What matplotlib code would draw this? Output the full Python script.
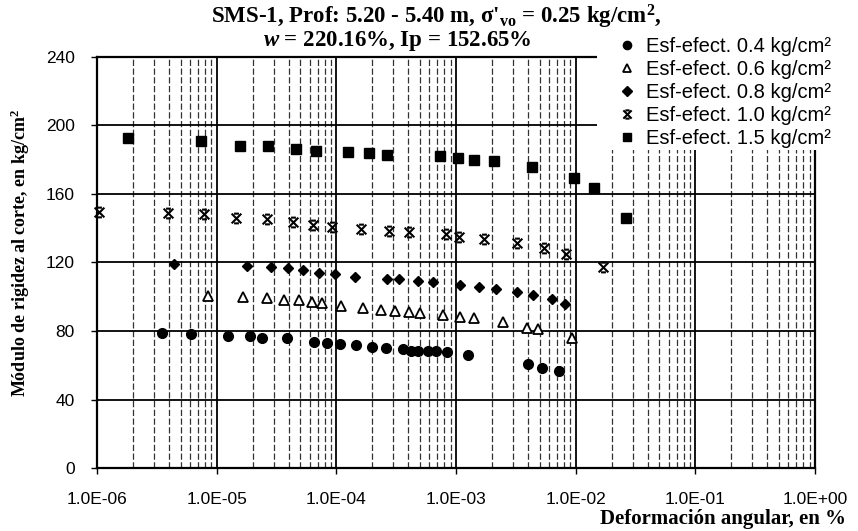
import matplotlib
matplotlib.use("Agg")
import matplotlib.pyplot as plt
from matplotlib.path import Path
from matplotlib.patches import Rectangle
from matplotlib.ticker import LogLocator, NullFormatter

# strain (%) and shear modulus (kg/cm2) per effective confining stress
x04 = [3.5e-6, 6.1e-6, 1.24e-5, 1.9e-5, 2.4e-5, 3.9e-5, 6.5e-5, 8.4e-5, 1.07e-4, 1.46e-4,
       1.98e-4, 2.6e-4, 3.6e-4, 4.2e-4, 4.8e-4, 5.8e-4, 6.8e-4, 8.4e-4, 1.26e-3, 3.99e-3,
       5.22e-3, 7.24e-3]
g04 = [78.8, 78.3, 77.1, 77.1, 75.9, 75.9, 73.6, 73.0, 72.4, 71.8,
       70.7, 70.1, 69.5, 68.3, 68.3, 68.3, 68.3, 67.7, 66.0, 60.7,
       58.4, 56.6]

x06 = [8.5e-6, 1.66e-5, 2.63e-5, 3.65e-5, 4.87e-5, 6.25e-5, 7.6e-5, 1.09e-4, 1.67e-4, 2.36e-4,
       3.09e-4, 4.04e-4, 5.0e-4, 7.8e-4, 1.08e-3, 1.41e-3, 2.47e-3, 3.91e-3, 4.83e-3, 9.3e-3]
g06 = [100.4, 99.9, 99.3, 98.1, 98.1, 96.9, 96.4, 94.6, 93.4, 92.3,
       91.7, 91.1, 90.5, 89.4, 88.2, 87.6, 85.3, 81.8, 81.2, 75.9]

x08 = [4.4e-6, 1.79e-5, 2.84e-5, 3.94e-5, 5.26e-5, 7.16e-5, 9.7e-5, 1.43e-4, 2.65e-4, 3.33e-4,
       4.8e-4, 6.4e-4, 1.08e-3, 1.55e-3, 2.15e-3, 3.23e-3, 4.39e-3, 6.3e-3, 8.1e-3]
g08 = [119.1, 118.0, 117.4, 117.0, 115.6, 114.0, 113.2, 111.6, 110.3, 110.3,
       109.3, 108.6, 106.9, 105.7, 104.5, 102.8, 101.0, 98.7, 95.8]

x10 = [1.04e-6, 3.9e-6, 7.8e-6, 1.45e-5, 2.63e-5, 4.34e-5, 6.4e-5, 9.2e-5, 1.6e-4, 2.75e-4,
       4.04e-4, 8.2e-4, 1.06e-3, 1.71e-3, 3.23e-3, 5.4e-3, 8.3e-3, 1.69e-2]
g10 = [149.5, 149.0, 148.3, 146.0, 145.4, 143.7, 142.0, 140.7, 139.6, 138.4,
       137.8, 136.7, 135.0, 133.7, 131.4, 128.5, 125.0, 117.4]

x15 = [1.8e-6, 7.4e-6, 1.57e-5, 2.7e-5, 4.6e-5, 6.8e-5, 1.25e-4, 1.87e-4, 2.65e-4, 7.3e-4,
       1.04e-3, 1.41e-3, 2.07e-3, 4.3e-3, 9.7e-3, 1.42e-2, 2.63e-2]
g15 = [192.7, 191.0, 188.0, 188.0, 186.0, 185.0, 184.5, 184.0, 183.0, 182.0,
       181.0, 180.0, 179.0, 175.5, 169.6, 163.5, 146.0]

series_labels = ["Esf-efect. 0.4 kg/cm²", "Esf-efect. 0.6 kg/cm²", "Esf-efect. 0.8 kg/cm²",
                 "Esf-efect. 1.0 kg/cm²", "Esf-efect. 1.5 kg/cm²"]
x_ticks = [1e-6, 1e-5, 1e-4, 1e-3, 1e-2, 1e-1, 1e0]
x_tick_labels = ["1.0E-06", "1.0E-05", "1.0E-04", "1.0E-03", "1.0E-02", "1.0E-01", "1.0E+00"]
y_ticks = [0, 40, 80, 120, 160, 200, 240]

SERIF = ["Liberation Serif", "DejaVu Serif"]
SANS = ["Liberation Sans", "DejaVu Sans"]
plt.rcParams["mathtext.fontset"] = "custom"
plt.rcParams["mathtext.rm"] = "Liberation Serif:bold"
plt.rcParams["mathtext.it"] = "Liberation Serif:italic:bold"
plt.rcParams["mathtext.default"] = "regular"

# excel-like star: x with short caps
star = Path([(-1, -1), (1, 1), (-1, 1), (1, -1), (-0.5, 1), (0.5, 1), (-0.5, -1), (0.5, -1)],
            [Path.MOVETO, Path.LINETO] * 4)

fig = plt.figure(figsize=(8.58, 5.31), dpi=100)
ax = fig.add_axes([0.1131, 0.1186, 0.8368, 0.7741])

ax.plot(x04, g04, "o", color="black", ms=7, label=series_labels[0], clip_on=False, zorder=3)
ax.plot(x06, g06, "^", mfc="white", mec="black", mew=1.3, ms=7.5, label=series_labels[1],
        clip_on=False, zorder=3)
ax.plot(x08, g08, "D", color="black", ms=5.5, label=series_labels[2], clip_on=False, zorder=3)
ax.plot(x10, g10, linestyle="none", marker=star, mec="black", mew=1.5, ms=7,
        label=series_labels[3], clip_on=False, zorder=3)
ax.plot(x15, g15, "s", color="black", ms=6.5, label=series_labels[4], clip_on=False, zorder=3)

ax.set_xscale("log")
ax.set_xlim(1e-6, 1e0)
ax.set_ylim(0, 240)
ax.set_xticks(x_ticks)
ax.set_xticklabels(x_tick_labels)
ax.xaxis.set_minor_locator(LogLocator(base=10, subs=range(2, 10), numticks=20))
ax.xaxis.set_minor_formatter(NullFormatter())
ax.set_yticks(y_ticks)

ax.grid(True, which="major", axis="both", color="black", lw=1.3)
ax.grid(True, which="minor", axis="x", color="#333333", lw=0.9, ls=(0, (5, 2)))
ax.set_axisbelow(True)
for s in ax.spines.values():
    s.set_linewidth(1.6)
ax.tick_params(axis="both", which="major", direction="out", length=4, width=1)
ax.tick_params(axis="x", which="minor", length=0)
ax.tick_params(axis="x", pad=13)
ax.tick_params(axis="y", pad=12)
for lab in ax.get_xticklabels() + ax.get_yticklabels():
    lab.set_fontfamily(SANS)
    lab.set_fontsize(12.5)

fig.text(0.024, 0.523, "Módulo de rigidez al corte, en kg/cm$^{2}$", rotation=90,
         family=SERIF, weight="bold", fontsize=13, ha="center", va="center")
fig.text(0.986, 0.003, "Deformación angular, en %", family=SERIF, weight="bold",
         fontsize=15, ha="right", va="bottom")

fig.text(0.508, 0.968, "SMS-1, Prof: 5.20 - 5.40 m, σ'$_{vo}$ = 0.25 kg/cm$^{2}$,",
         family=SERIF, weight="bold", fontsize=16.5, ha="center", va="center")
fig.text(0.463, 0.922, "$\\it{w}$ = 220.16%, Ip = 152.65%", family=SERIF, weight="bold",
         fontsize=16.5, ha="center", va="center")

# white box behind the legend, hiding the top-right corner of the plot
fig.patches.append(Rectangle((0.696, 0.7175), 0.304, 0.218, transform=fig.transFigure,
                             facecolor="white", edgecolor="none", zorder=1))
fig.legend(loc="upper left", bbox_to_anchor=(0.722, 0.931), frameon=False,
           prop={"family": SANS, "size": 14.5}, handlelength=0.7, handletextpad=0.6,
           labelspacing=0.2, borderaxespad=0, borderpad=0, markerscale=0.85)

fig.savefig("out.png", dpi=100)
